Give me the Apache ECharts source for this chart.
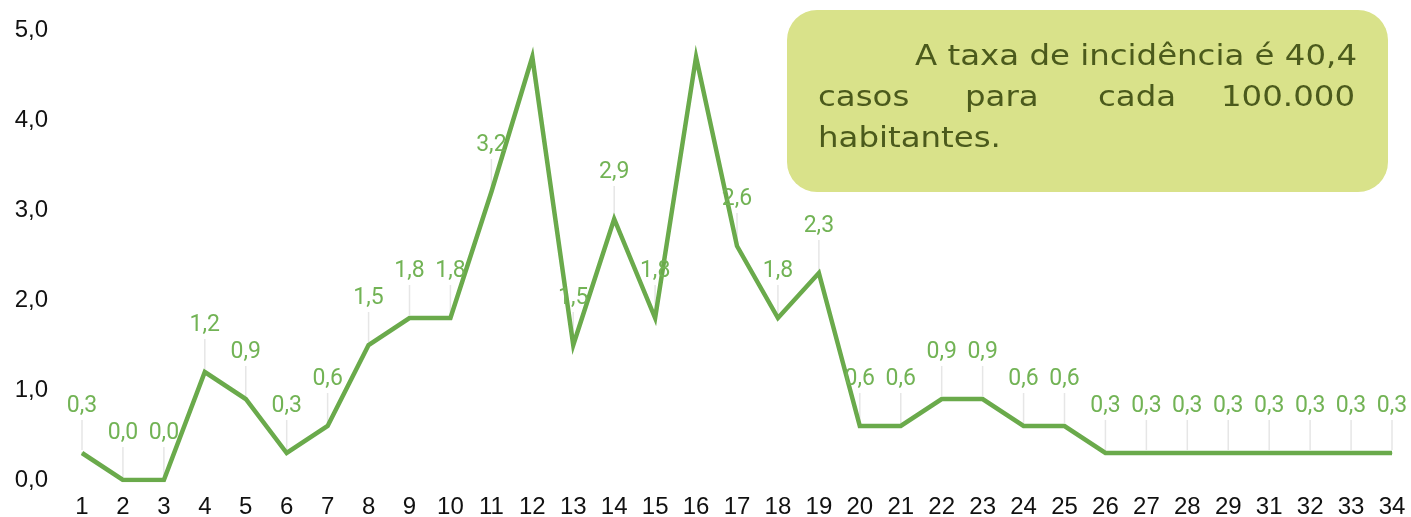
<!DOCTYPE html>
<html><head><meta charset="utf-8">
<script src="https://cdn.jsdelivr.net/npm/echarts@6/dist/echarts.min.js"></script>
<style>html,body{margin:0;padding:0;background:#fff}#c{width:1411px;height:517px}</style>
</head><body><div id="c"></div>
<script>
const categories = ['1','2','3','4','5','6','7','8','9','10','11','12','13','14','15','16','17','18','19','20','21','22','23','24','25','26','27','28','29','31','32','33','34'];
const values = [0.3,0.0,0.0,1.2,0.9,0.3,0.6,1.5,1.8,1.8,3.2,4.7,1.5,2.9,1.8,4.7,2.6,1.8,2.3,0.6,0.6,0.9,0.9,0.6,0.6,0.3,0.3,0.3,0.3,0.3,0.3,0.3,0.3];
const hiddenLabels = ['12','16'];
const noteLine1 = 'A taxa de incidência é 40,4';
const noteLine2 = ['casos','para','cada','100.000'];
const noteLine3 = 'habitantes.';

const fmt = v => v.toFixed(1).replace('.', ',');
const chart = echarts.init(document.getElementById('c'));
const lineData = values.map((v,i) => ({
  value: v,
  label: { show: hiddenLabels.indexOf(categories[i]) < 0 }
}));
const leaderData = values.map((v,i) => [i, v]).filter((d,i) => hiddenLabels.indexOf(categories[i]) < 0);

const noteFontSize = 28;
const noteFont = noteFontSize + 'px "DejaVu Sans", sans-serif';
const noteColor = '#4b5a1c';
const cv = document.createElement('canvas').getContext('2d');
cv.font = noteFont;
const sx = 442 / cv.measureText(noteLine1).width;
const base = [68, 109, 150].map(b => b - 0.36 * noteFontSize);
const l2x = [818, 965, 1098, 1355];
const l2align = ['left','left','left','right'];

chart.setOption({
  animation: false,
  grid: { left: 82, right: 19, top: 30, bottom: 37, containLabel: false, outerBoundsMode: 'none' },
  xAxis: {
    type: 'category', data: categories, boundaryGap: false,
    axisLine: { show: false }, axisTick: { show: false }, splitLine: { show: false },
    axisLabel: { color: '#111', fontSize: 24, fontFamily: '"Liberation Sans", Arial, sans-serif', margin: 15, interval: 0 }
  },
  yAxis: {
    type: 'value', min: 0, max: 5, interval: 1,
    axisLine: { show: false }, axisTick: { show: false }, splitLine: { show: false },
    axisLabel: { color: '#111', fontSize: 24, fontFamily: '"Liberation Sans", Arial, sans-serif', margin: 34, padding: [4, 0, 0, 0], formatter: fmt }
  },
  series: [
    {
      type: 'custom', z: 1, silent: true,
      data: leaderData, encode: { x: 0, y: 1 },
      renderItem: function (params, api) {
        const p = api.coord([api.value(0), api.value(1)]);
        return { type: 'line', shape: { x1: p[0], y1: p[1] - 3, x2: p[0], y2: p[1] - 33 },
          style: { stroke: '#e6e6e6', lineWidth: 1.5 } };
      }
    },
    {
      type: 'line', z: 3, data: lineData,
      symbol: 'circle', symbolSize: 1, showSymbol: true,
      lineStyle: { color: '#6aaa4b', width: 4.5, join: 'miter' },
      itemStyle: { color: '#6aaa4b' },
      label: { show: true, position: 'top', distance: 35, color: '#72b355', fontSize: 23, fontFamily: 'Roboto', formatter: p => fmt(p.value) }
    }
  ],
  graphic: [
    { type: 'rect', left: 787, top: 10, shape: { width: 601, height: 182, r: 30 }, style: { fill: '#d9e28a' }, z: 10 },
    { type: 'text', z: 11, x: 1357, y: base[0], scaleX: sx, style: { text: noteLine1, font: noteFont, fill: noteColor, align: 'right', verticalAlign: 'middle' } },
    ...noteLine2.map((w,i) => ({ type: 'text', z: 11, x: l2x[i], y: base[1], scaleX: sx, style: { text: w, font: noteFont, fill: noteColor, align: l2align[i], verticalAlign: 'middle' } })),
    { type: 'text', z: 11, x: 818, y: base[2], scaleX: sx, style: { text: noteLine3, font: noteFont, fill: noteColor, align: 'left', verticalAlign: 'middle' } }
  ]
});
</script></body></html>
